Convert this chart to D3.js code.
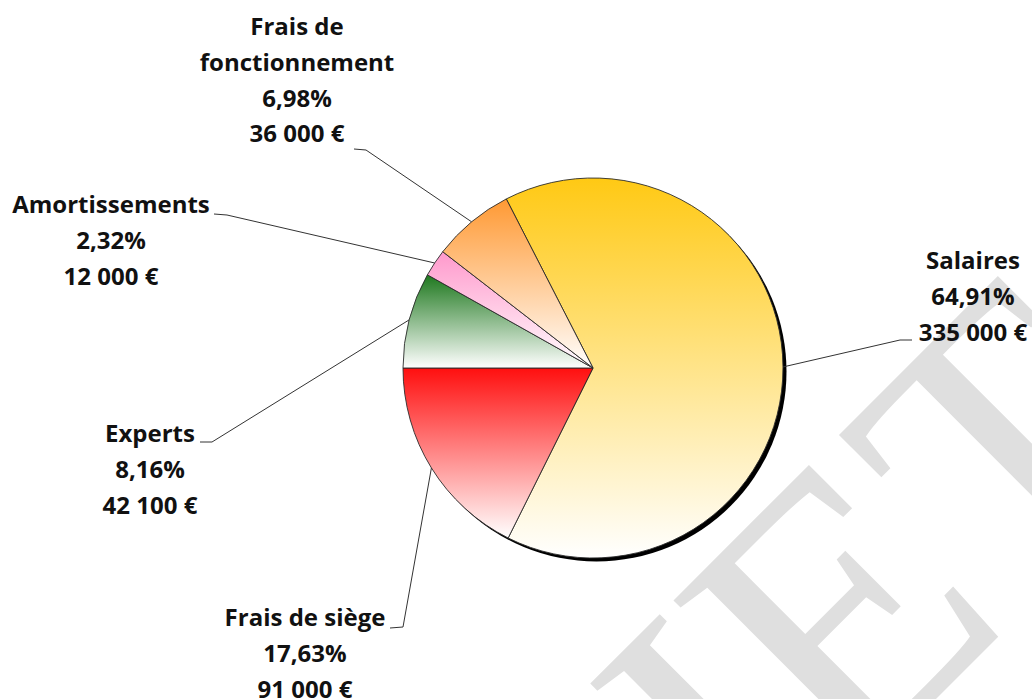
<!DOCTYPE html>
<html>
<head>
<meta charset="utf-8">
<script src="https://cdn.jsdelivr.net/npm/d3@7"></script>
<style>
  body { margin: 0; background: #fff; }
  svg { display: block; }
  .lbl { font-family: "Open Sans", sans-serif; font-weight: bold; font-size: 24px; fill: #111; }
</style>
</head>
<body>
<div id="chart"></div>
<script>
// data
const categories = ["Salaires", "Frais de siège", "Experts", "Amortissements", "Frais de fonctionnement"];
const amounts = [335000, 91000, 42100, 12000, 36000];
const percents = [64.91, 17.63, 8.16, 2.32, 6.98];
const sliceColors = ["#FFC914", "#FF0F0F", "#1E781E", "#FF99CC", "#FF9933"];

const width = 1032;
const height = 699;
const cx = 593, cy = 368, radius = 190;

// label layout (first baseline, knee of the leader line)
const labelLayout = [
    {x: 973, y: 269, start: [912, 340], knee: [900, 340]},
    {x: 305, y: 626, start: [390, 628], knee: [403, 627]},
    {x: 150, y: 442, start: [200, 442], knee: [212, 442]},
    {x: 111, y: 213, start: [214, 214], knee: [227, 215]},
    {x: 297, y: 35, start: [354, 149], knee: [366, 150]}
];
const lineStep = 35.8;

const fr = d3.formatLocale({decimal: ",", thousands: "\u00a0", grouping: [3], currency: ["", "\u00a0€"]});
const fmtMoney = fr.format("$,");
const fmtPct = fr.format(".2f");
const total = d3.sum(amounts);

const svg = d3.select("#chart").append("svg")
    .attr("width", width).attr("height", height);

const defs = svg.append("defs");

// watermark
svg.append("text")
    .attr("transform", "translate(1183,452) rotate(-45)")
    .attr("text-anchor", "end")
    .style("font-family", "'Liberation Serif', serif")
    .style("font-size", "390px")
    .style("fill", "#dfdfdf")
    .text("PROJET");

sliceColors.forEach((c, i) => {
    const g = defs.append("linearGradient")
        .attr("id", "grad" + i)
        .attr("x1", 0).attr("y1", 0).attr("x2", 0).attr("y2", 1);
    g.append("stop").attr("offset", "0%").attr("stop-color", c);
    g.append("stop").attr("offset", "100%").attr("stop-color", "#ffffff");
});

defs.append("filter").attr("id", "soft")
    .append("feGaussianBlur").attr("stdDeviation", 0.5);

// Frais de siège ends at 9 o'clock
const startAngle = 1.5 * Math.PI - 2 * Math.PI * (amounts[0] + amounts[1]) / total;

const pie = d3.pie().sort(null).value(d => d)
    .startAngle(startAngle).endAngle(startAngle + 2 * Math.PI);
const arcs = pie(amounts);

const arc = d3.arc().innerRadius(0).outerRadius(radius);
const edge = d3.arc().innerRadius(radius).outerRadius(radius);

const g = svg.append("g").attr("transform", `translate(${cx},${cy})`);

// leader lines
svg.append("g").selectAll("polyline")
    .data(arcs)
    .join("polyline")
    .attr("points", (d, i) => {
        const p = edge.centroid(d);
        const L = labelLayout[i];
        return [L.start, L.knee, [p[0] + cx, p[1] + cy]].map(q => q.join(",")).join(" ");
    })
    .attr("fill", "none")
    .attr("stroke", "#333")
    .attr("stroke-width", 1);

// shadow
g.append("circle")
    .attr("cx", 3.5).attr("cy", 3.5).attr("r", radius)
    .attr("fill", "#000")
    .attr("filter", "url(#soft)");

g.selectAll("path.slice")
    .data(arcs)
    .join("path")
    .attr("class", "slice")
    .attr("d", arc)
    .attr("fill", (d, i) => `url(#grad${i})`)
    .attr("stroke", "#2b2b2b")
    .attr("stroke-width", 0.9)
    .attr("stroke-linejoin", "round");

// labels
const labels = svg.append("g");
arcs.forEach((d, i) => {
    const L = labelLayout[i];
    const name = categories[i].replace("de fonctionnement", "de\nfonctionnement").split("\n");
    const lines = name.concat([fmtPct(percents[i]) + "%", fmtMoney(d.value)]);
    const t = labels.append("text")
        .attr("class", "lbl")
        .attr("text-anchor", "middle");
    lines.forEach((s, k) => {
        t.append("tspan")
            .attr("x", L.x)
            .attr("y", L.y + k * lineStep)
            .text(s);
    });
});
</script>
</body>
</html>
